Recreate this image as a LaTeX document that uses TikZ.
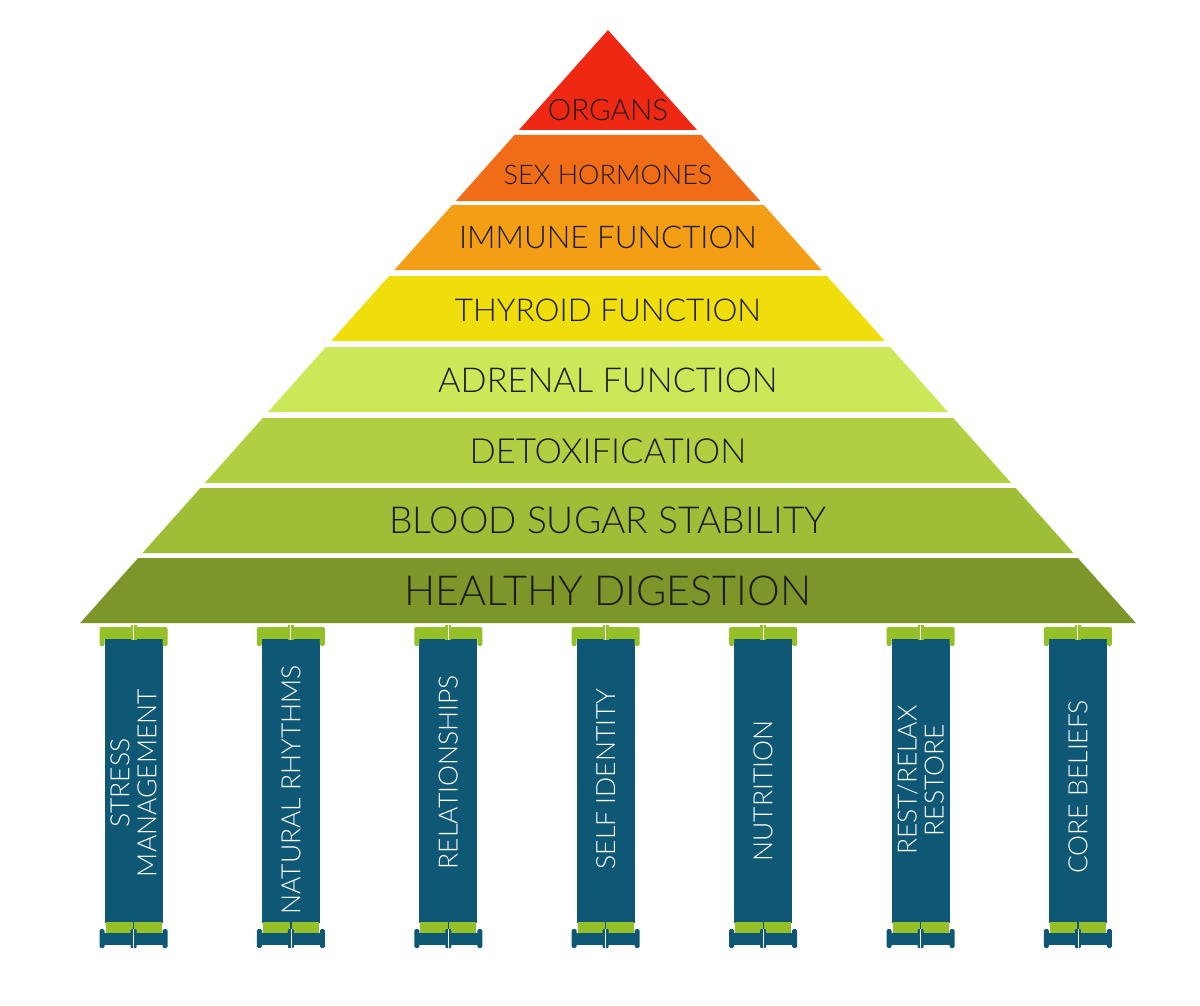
\documentclass[tikz,border=0pt]{standalone}
\usepackage{fontspec}
\IfFontExistsTF{Lato Light}{\setmainfont{Lato Light}}{\setmainfont{Lato}}
\definecolor{cOrg}{RGB}{238,40,18}
\definecolor{cSex}{RGB}{240,108,22}
\definecolor{cImm}{RGB}{244,158,22}
\definecolor{cThy}{RGB}{240,222,12}
\definecolor{cAdr}{RGB}{202,232,88}
\definecolor{cDet}{RGB}{176,208,66}
\definecolor{cBlo}{RGB}{158,190,56}
\definecolor{cDig}{RGB}{124,150,42}
\definecolor{pBlue}{RGB}{14,88,118}
\definecolor{pGreen}{RGB}{150,192,40}
\definecolor{txt}{RGB}{28,28,28}
\newcommand\pyrlayer[6]{%
  \pgfmathsetmacro\xlt{608-0.89*(#1-30)}%
  \pgfmathsetmacro\xrt{608+0.89*(#1-30)}%
  \pgfmathsetmacro\xlb{608-0.89*(#2-30)}%
  \pgfmathsetmacro\xrb{608+0.89*(#2-30)}%
  \fill[#3] (\xlt,#1) -- (\xrt,#1) -- (\xrb,#2) -- (\xlb,#2) -- cycle;
  \node[layertext,font=\fontsize{#6}{#6}\selectfont] (#4) at (608,#5) {#4};
}
\begin{document}
\begin{tikzpicture}[x=1pt,y=-1pt,
  layertext/.style={text=txt,inner sep=0pt},
  piltext/.style={text=white,inner sep=0pt,rotate=90,align=center,font=\fontsize{26.5}{27}\selectfont},
  pilbody/.style={fill=pBlue},
  pilgreen/.style={fill=pGreen}]
\useasboundingbox (0,0) rectangle (1200,1006);
\fill[white] (0,0) rectangle (1200,1006);
% apex layer
\fill[cOrg] (608,30) -- (697,130) -- (519,130) -- cycle;
\node[layertext,font=\fontsize{29.5}{29.5}\selectfont] (organs) at (608,110) {ORGANS};
\pyrlayer{135}{201}{cSex}{SEX HORMONES}{175}{27}
\pyrlayer{205}{270}{cImm}{IMMUNE FUNCTION}{237}{31.3}
\pyrlayer{276}{341}{cThy}{THYROID FUNCTION}{310}{31.5}
\pyrlayer{347}{412}{cAdr}{ADRENAL FUNCTION}{380}{34.3}
\pyrlayer{418}{483}{cDet}{DETOXIFICATION}{451}{34.6}
\pyrlayer{488}{553}{cBlo}{BLOOD SUGAR STABILITY}{520}{37.2}
\pyrlayer{558}{623}{cDig}{HEALTHY DIGESTION}{591}{41.3}
% pillars
\foreach \i/\ty/\lab in {0/783/{STRESS\\MANAGEMENT},1/790/{NATURAL RHYTHMS},2/772/{RELATIONSHIPS},3/779/{SELF IDENTITY},4/791/{NUTRITION},5/780/{REST/RELAX\\RESTORE},6/787/{CORE BELIEFS}}{
  \pgfmathsetmacro\cx{133.5+157.4*\i}
  % body
  \fill[pilbody] (\cx-29,636) rectangle (\cx+29,923);
  % capital
  \fill[pilgreen] (\cx-31,627) rectangle (\cx+31,639);
  \fill[pilgreen,rounded corners=1.5pt] (\cx-34,627) rectangle (\cx-29,646);
  \fill[pilgreen,rounded corners=1.5pt] (\cx+29,627) rectangle (\cx+34,646);
  \fill[pilgreen] (\cx-3,625) rectangle (\cx+3,640);
  \draw[white,line width=1pt] (\cx,625) -- (\cx,640);
  % lower green band
  \fill[pilgreen] (\cx-28,922) rectangle (\cx+28,933);
  \draw[pBlue,line width=1.2pt] (\cx,922) -- (\cx,933);
  % base
  \fill[pilbody] (\cx-31,933) rectangle (\cx+31,945);
  \fill[pilbody,rounded corners=1.5pt] (\cx-34,929) rectangle (\cx-29,948);
  \fill[pilbody,rounded corners=1.5pt] (\cx+29,929) rectangle (\cx+34,948);
  \fill[pilbody,rounded corners=1pt] (\cx-3,929) rectangle (\cx+3,948);
  \draw[white,line width=0.8pt] (\cx,929) -- (\cx,948);
  \node[piltext] (pil\i) at (\cx,\ty) {\lab};
}
\end{tikzpicture}
\end{document}
